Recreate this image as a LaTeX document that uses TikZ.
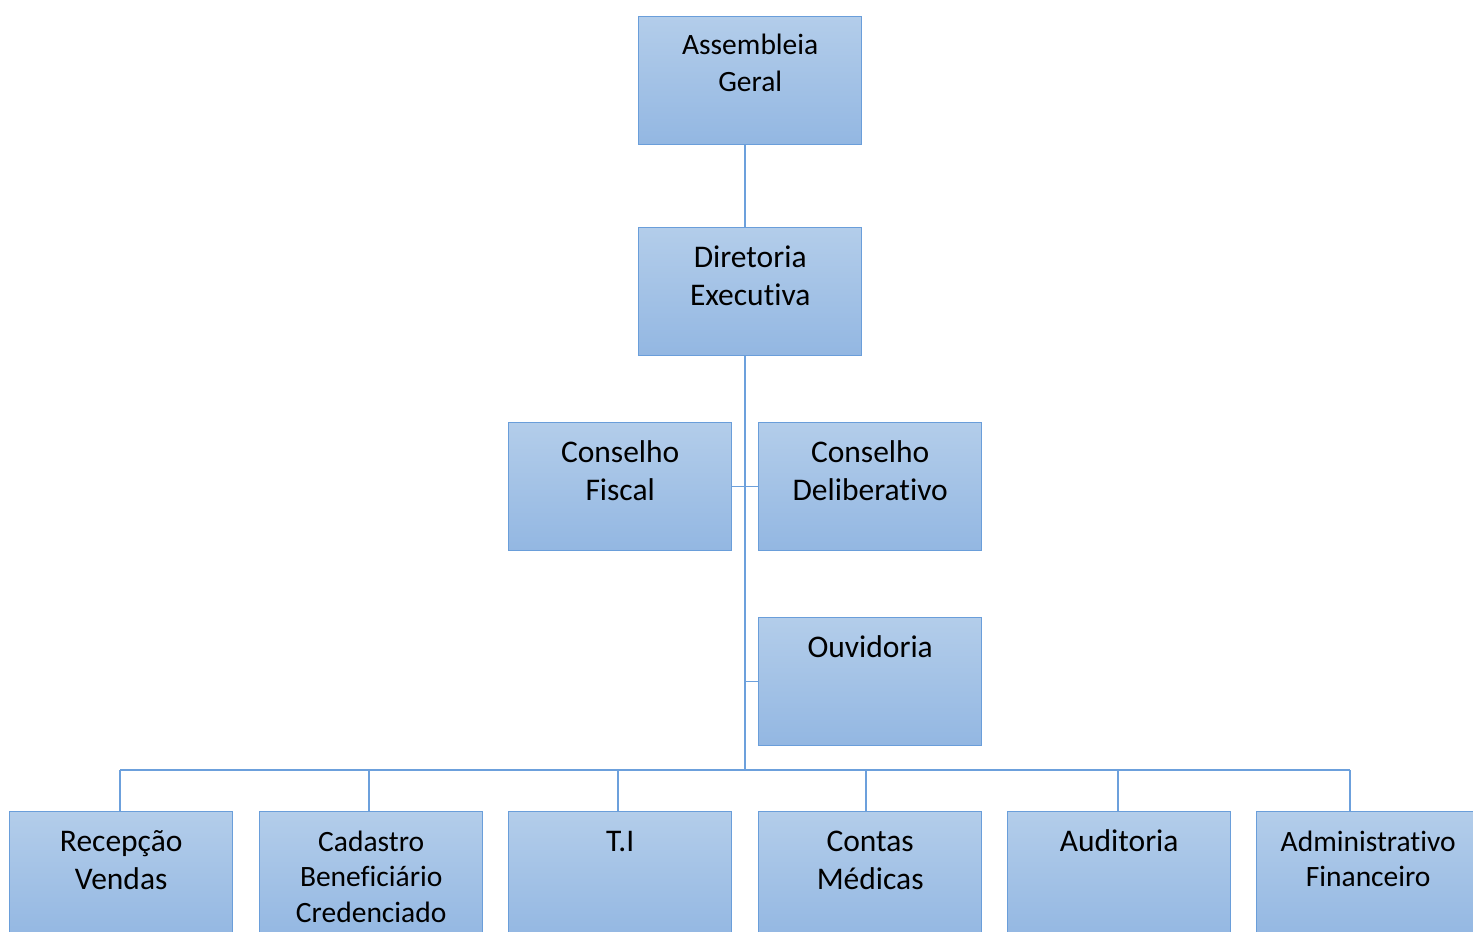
\documentclass[tikz,border=0pt]{standalone}
\usepackage{fontspec}
\setmainfont[Ligatures={NoCommon,NoContextual,NoRare}, Contextuals=NoAlternate]{Carlito}
\definecolor{boxtop}{HTML}{B3CDEA}
\definecolor{boxbot}{HTML}{93B7E2}
\definecolor{bord}{HTML}{6A9EDA}
\definecolor{conn}{HTML}{6CA0DC}
\tikzset{
  orgbox/.style={draw=bord, line width=1.4pt, top color=boxtop, bottom color=boxbot,
    minimum width=223pt, minimum height=128pt, anchor=north west, inner sep=0pt},
  big/.style={font=\fontsize{31.5}{38}\selectfont},
  small/.style={font=\fontsize{29.5}{35.5}\selectfont},
  smallag/.style={font=\fontsize{29.5}{37}\selectfont},
  link/.style={draw=conn, line width=1.3pt},
  boxlbl/.style n args={3}{label={[anchor=north, yshift=-#1pt, align=center, inner sep=0pt, #2]north:{#3}}},
}
\begin{document}
\begin{tikzpicture}[x=1pt,y=-1pt]
\useasboundingbox (0,0) rectangle (1473,932);
% boxes
\node[orgbox, boxlbl={12.5}{smallag}{\strut Assembleia\\Geral}] (ag) at (638,16) {};
\node[orgbox, boxlbl={14}{big}{\strut Diretoria\\Executiva}] (de) at (638,227) {};
\node[orgbox, boxlbl={14}{big}{\strut Conselho\\Fiscal}] (cf) at (508,422) {};
\node[orgbox, boxlbl={14}{big}{\strut Conselho\\Deliberativo}] (cd) at (758,422) {};
\node[orgbox, boxlbl={14}{big}{\strut Ouvidoria}] (ou) at (758,617) {};
\node[orgbox, boxlbl={14}{big}{\strut Recepção\\Vendas}] (rv) at (9,811) {};
\node[orgbox, boxlbl={15}{small}{\strut Cadastro\\Beneficiário\\Credenciado}] (cb) at (259,811) {};
\node[orgbox, boxlbl={14}{big}{\strut T.I}] (ti) at (508,811) {};
\node[orgbox, boxlbl={14}{big}{\strut Contas\\Médicas}] (cm) at (758,811) {};
\node[orgbox, boxlbl={14}{big}{\strut Auditoria}] (au) at (1007,811) {};
\node[orgbox, boxlbl={15}{small}{\strut Administrativo\\Financeiro}] (af) at (1256,811) {};
% connector points
\coordinate (trunk) at (745,770);
\coordinate (b1) at (120,770);
\coordinate (b2) at (369,770);
\coordinate (b3) at (618,770);
\coordinate (b4) at (866,770);
\coordinate (b5) at (1118,770);
\coordinate (b6) at (1350,770);
% connectors
\draw[link] (trunk |- ag.south) -- (trunk |- de.north);
\draw[link] (trunk |- de.south) -- (trunk);
\draw[link] (cf.east) -- (cd.west);
\draw[link] (trunk |- ou.west) -- (ou.west);
\draw[link] (b1) -- (b6);
\draw[link] (b1) -- (b1 |- rv.north);
\draw[link] (b2) -- (b2 |- cb.north);
\draw[link] (b3) -- (b3 |- ti.north);
\draw[link] (b4) -- (b4 |- cm.north);
\draw[link] (b5) -- (b5 |- au.north);
\draw[link] (b6) -- (b6 |- af.north);
\end{tikzpicture}
\end{document}
